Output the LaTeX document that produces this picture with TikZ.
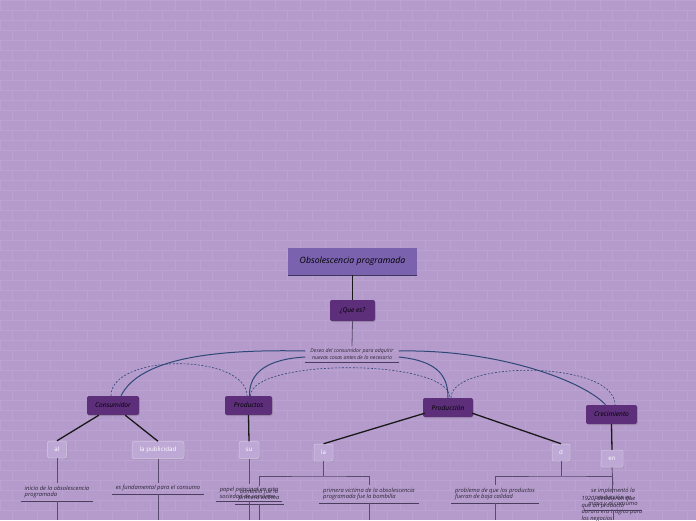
\documentclass[tikz,border=0pt]{standalone}
\usepackage{fontspec}
\setmainfont{Open Sans}
\usetikzlibrary{shadows}
\definecolor{bg}{HTML}{B49BCB}
\definecolor{brick}{HTML}{BAA3D0}
\definecolor{rootc}{HTML}{7B62AF}
\definecolor{rootedge}{HTML}{40355F}
\definecolor{catc}{HTML}{5D2E7A}
\definecolor{kidc}{HTML}{BEA8D5}
\definecolor{kidedge}{HTML}{D6CAE5}
\definecolor{curvec}{HTML}{2F4777}
\definecolor{stemc}{HTML}{5A4A6E}
\definecolor{ulinec}{HTML}{4A3D5E}
\definecolor{leaftext}{HTML}{2A2434}
\tikzset{
  rootbox/.style={fill=rootc, text=black, inner sep=0pt, minimum width=129pt, minimum height=27pt,
    font=\itshape\fontsize{8.7}{10}\selectfont},
  catbox/.style={fill=catc, text=black, rounded corners=2pt, inner sep=0pt, minimum height=19pt,
    font=\itshape\fontsize{6.6}{8}\selectfont,
    drop shadow={opacity=0.35, shadow xshift=0.8pt, shadow yshift=-1pt}},
  kidbox/.style={fill=kidc, draw=kidedge, line width=0.5pt, text=white, rounded corners=2pt, inner sep=0pt,
    minimum height=17pt, font=\fontsize{6.2}{7}\selectfont,
    drop shadow={opacity=0.25, shadow xshift=0.8pt, shadow yshift=-1pt}},
  leaf/.style={text=leaftext, inner xsep=4pt, inner ysep=2.5pt, align=left,
    font=\itshape\fontsize{5.8}{6.9}\selectfont},
  desctext/.style={text=leaftext, inner xsep=5pt, inner ysep=2pt, align=center,
    font=\itshape\fontsize{5.2}{7.4}\selectfont},
  curve/.style={draw=curvec, line width=1pt},
  dcurve/.style={draw=curvec, line width=0.6pt, dash pattern=on 2pt off 1.6pt},
  thick link/.style={draw=black!90, line width=1.3pt},
  stemline/.style={draw=stemc, line width=0.8pt},
  uline/.style={draw=ulinec, line width=0.7pt},
  brickline/.style={draw=brick, line width=0.45pt}
}
\begin{document}
\begin{tikzpicture}[x=1pt,y=-1pt]
\useasboundingbox (0,0) rectangle (696,520);
\fill[bg] (0,0) rectangle (696,520);
% brick texture
\foreach \r in {0,...,51}{
  \draw[brickline] (0,\r*10) -- (696,\r*10);
  \pgfmathsetmacro\off{mod(\r,2)*12.5}
  \foreach \c in {0,...,28}{
    \draw[brickline] (\c*25+\off,\r*10) -- ++(0,10);
  }
}

% main nodes
\node[rootbox] (root) at (352.5,261.5) {Obsolescencia programada};
\draw[rootedge, line width=0.8pt] (root.south west) -- (root.south east);
\node[catbox, minimum width=45pt, minimum height=21pt] (que) at (352.5,310.5) {¿Que es?};
\node[desctext] (desc) at (352,354) {Deseo del consumidor para adquirir\\nuevas cosas antes de lo necesario};
\draw[uline] (desc.south west) -- (desc.south east);

\draw[thick link, line width=1.1pt] (root.south) -- (que.north);
\draw[stemline] (que.south) -- (desc.north);

% categories
\node[catbox, minimum width=52pt] (cons) at (113,405.5) {Consumidor};
\node[catbox, minimum width=47pt] (prodt) at (248.5,405.5) {Productos};
\node[catbox, minimum width=50pt] (prod) at (448,407.5) {Producción};
\node[catbox, minimum width=51pt] (crec) at (611.5,414.5) {Crecimiento};

% solid curves from description
\draw[curve] ([yshift=3pt]desc.west) .. controls (215,349) and (140,358) .. ([xshift=8pt]cons.north);
\draw[curve] ([yshift=-3pt]desc.west) .. controls (268,359) and (249,372) .. ([xshift=1pt]prodt.north);
\draw[curve] ([yshift=3pt]desc.east) .. controls (500,349) and (585,382) .. ([xshift=-6pt]crec.north);
\draw[curve] ([yshift=-3pt]desc.east) .. controls (440,361) and (448,378) .. (prod.north);

% dashed relation arcs
\draw[dcurve] ([xshift=-2pt]cons.north) .. controls (111,353) and (246,353) .. ([xshift=-1.5pt]prodt.north);
\draw[dcurve] ([xshift=2pt]prodt.north) .. controls (251,358) and (450,358) .. ([xshift=2pt]prod.north);
\draw[dcurve] ([xshift=3pt]prod.north) .. controls (451,360) and (615,360) .. ([xshift=3.5pt]crec.north);

% children
\node[kidbox, minimum width=19pt] (al) at (57,449.5) {al};
\node[kidbox, minimum width=52pt] (pub) at (158,450) {la publicidad};
\node[kidbox, minimum width=20pt] (su) at (249,450) {su};
\node[kidbox, minimum width=19pt] (la) at (323.5,452.5) {la};
\node[kidbox, minimum width=18pt] (d) at (561,452.5) {d};
\node[kidbox, minimum width=22pt] (en) at (612,458.5) {en};

\draw[thick link] ([xshift=12pt]cons.south west) -- (al.north);
\draw[thick link] ([xshift=-14pt]cons.south east) -- (pub.north);
\draw[thick link] (prodt.south) -- (su.north);
\draw[thick link] ([xshift=2pt,yshift=4pt]prod.south west) -- (la.north);
\draw[thick link] ([xshift=-1pt,yshift=4pt]prod.south east) -- (d.north);
\draw[thick link] (crec.south) -- (en.north);

% leaves
\node[leaf, anchor=south] (L1) at (57,501) {inicio de la obsolescencia\\programada};
\node[leaf, anchor=south] (L2) at (158,494) {es fundamental para el consumo};
\node[leaf, anchor=south] (L3) at (249,501) {papel principal en esta\\sociedad de consumo};
\node[leaf, anchor=south, align=center] (L4) at (259,504) {bombilla fue la\\primera víctima};
\node[leaf, anchor=south] (L5) at (369,503) {primera victima de la obsolescencia\\programada fue la bombilla};
\node[leaf, anchor=south] (L6) at (495,503) {problema de que los productos\\fueran de baja calidad};
\node[leaf, anchor=north] (L7) at (612,493) {1920, decidieron que\\que un producto\\durara era trágico para\\los negocios};
\node[leaf, anchor=south, align=center] (L8) at (613,510) {se implementó la\\producción en\\masa y el consumo};

\foreach \n in {L1,L2,L3,L4,L5,L6,L8}{
  \draw[uline] (\n.south west) -- (\n.south east);
}

% stems from children to leaves
\draw[stemline] (al.south) -- (L1.north);
\draw[stemline] (pub.south) -- (L2.north);
\draw[stemline] (su.south) -- (L3.north);
\coordinate (laBar) at (323.5,476);
\draw[stemline] (la.south) -- (laBar);
\draw[stemline] (L4.north) |- (laBar) -| (L5.north);
\coordinate (dBar) at (561,476);
\draw[stemline] (d.south) -- (dBar);
\draw[stemline] (L6.north) |- (dBar) -| (L7.north);
\draw[stemline] (en.south) -- (L8.north);

% stems continuing below the frame
\coordinate (b1) at (57,520);
\coordinate (b2) at (158,520);
\coordinate (b3) at (249,520);
\coordinate (b4) at (259,520);
\coordinate (b5) at (369,520);
\coordinate (b6) at (495,520);
\coordinate (b8) at (613,520);
\draw[stemline] (L1.south) -- (b1);
\draw[stemline] (L2.south) -- (b2);
\draw[stemline] (L3.south) -- (b3);
\draw[stemline] (L4.south) -- (b4);
\draw[stemline] (L5.south) -- (b5);
\draw[stemline] (L6.south) -- (b6);
\draw[stemline] (L8.south) -- (b8);
\end{tikzpicture}
\end{document}
